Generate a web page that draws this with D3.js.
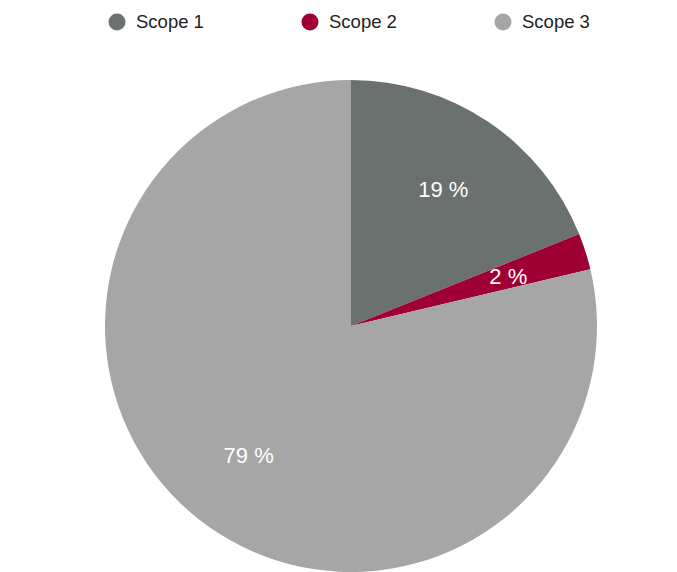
<!DOCTYPE html>
<html>
<head>
<meta charset="utf-8">
<script src="https://cdn.jsdelivr.net/npm/d3@7"></script>
<style>
  body { margin: 0; background: #fff; }
  svg { display: block; font-family: "Liberation Sans", Arial, sans-serif; }
</style>
</head>
<body>
<div class="chart-container"></div>
<script>
var w = 677;
var h = 572;

var categories = ["Scope 1", "Scope 2", "Scope 3"];
var values = [18.9, 2.4, 78.7];
var colors = ["#6b716f", "#9e0033", "#a6a6a6"];

var cx = 351, cy = 326, radius = 246;

var svg = d3.select(".chart-container")
            .append("svg")
            .attr("width", w)
            .attr("height", h);

var pie = d3.pie().sort(null).value(function(d) { return d; });
var arcs = pie(values);

var arc = d3.arc().innerRadius(0).outerRadius(radius);
var labelArc = d3.arc().innerRadius(165).outerRadius(165);

var g = svg.append("g")
           .attr("transform", "translate(" + cx + "," + cy + ")");

g.selectAll("path")
 .data(arcs)
 .enter()
 .append("path")
 .attr("d", arc)
 .attr("fill", function(d, i) { return colors[i]; });

g.selectAll("text.label")
 .data(arcs)
 .enter()
 .append("text")
 .attr("class", "label")
 .attr("transform", function(d) { return "translate(" + labelArc.centroid(d) + ")"; })
 .attr("text-anchor", "middle")
 .attr("dy", "0.35em")
 .attr("fill", "#fff")
 .style("font-size", "22px")
 .text(function(d) { return Math.round(d.value) + " %"; });

// legend
var legendX = d3.scalePoint().domain(categories).range([117, 503]);

var legend = svg.selectAll("g.legend")
                .data(categories)
                .enter()
                .append("g")
                .attr("class", "legend")
                .attr("transform", function(d) { return "translate(" + legendX(d) + ",22)"; });

legend.append("circle")
      .attr("r", 8.5)
      .attr("fill", function(d, i) { return colors[i]; });

legend.append("text")
      .attr("x", 19)
      .attr("dy", "0.35em")
      .attr("fill", "#222")
      .style("font-size", "18.5px")
      .text(function(d) { return d; });
</script>
</body>
</html>
